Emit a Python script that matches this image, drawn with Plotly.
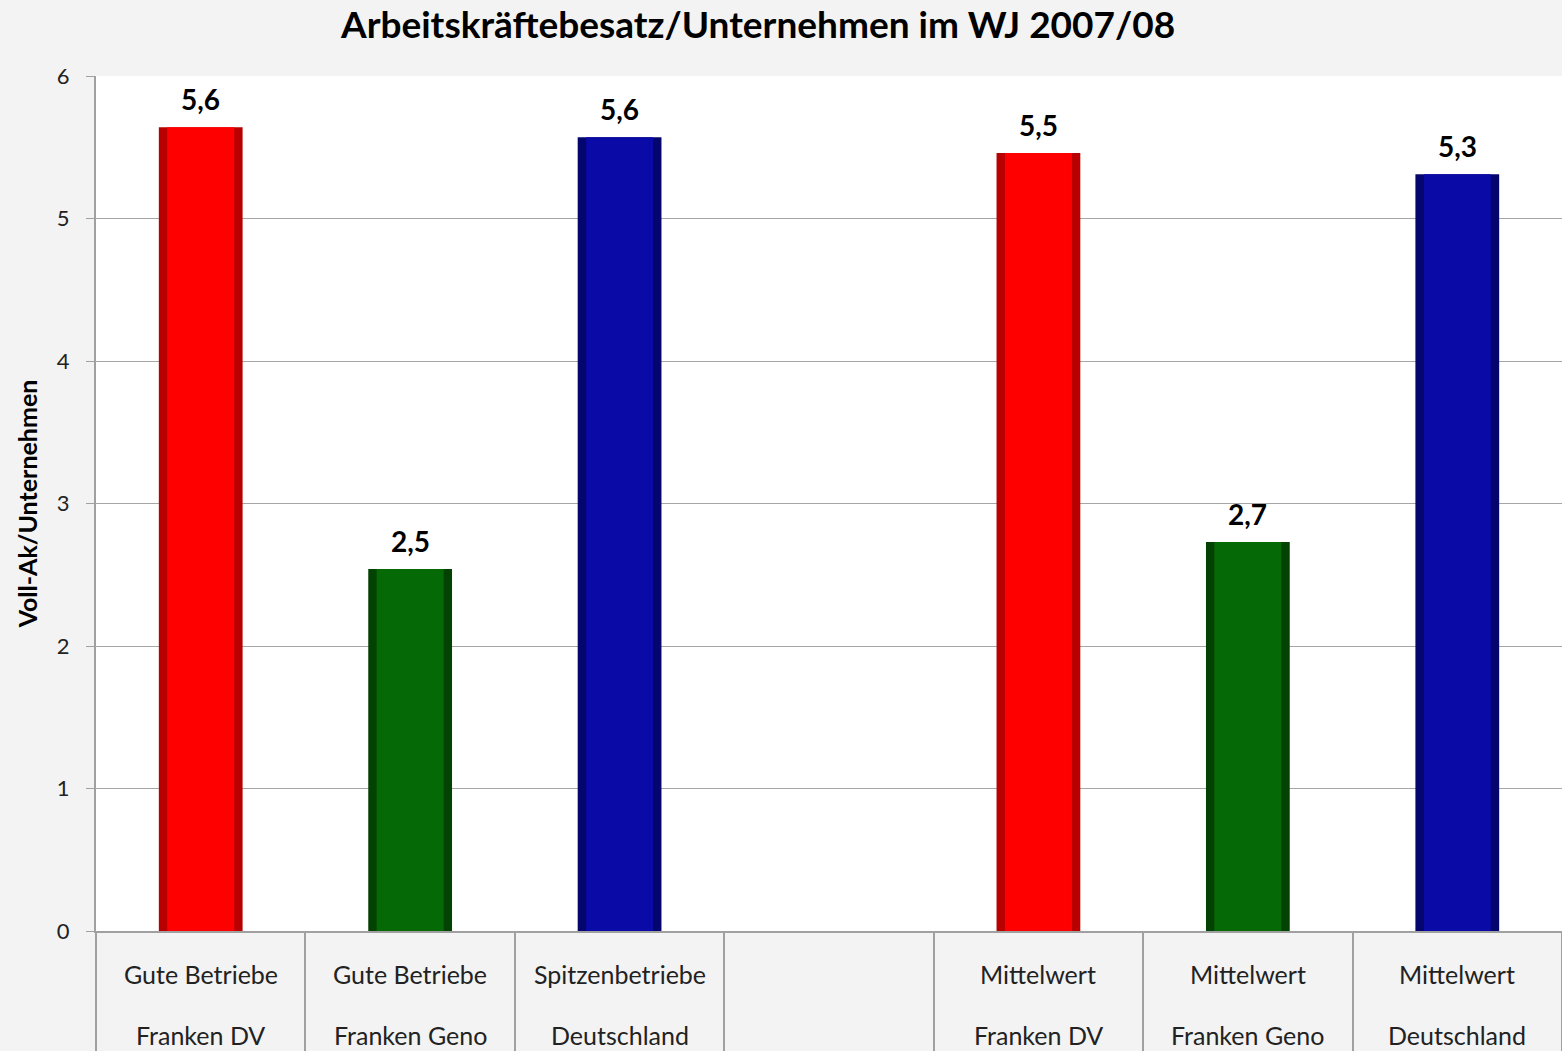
import plotly.graph_objects as go

categories = ["c0", "c1", "c2", "c3", "c4", "c5", "c6"]
label_line1 = ["Gute Betriebe", "Gute Betriebe", "Spitzenbetriebe", "", "Mittelwert", "Mittelwert", "Mittelwert"]
label_line2 = ["Franken DV", "Franken Geno", "Deutschland", "", "Franken DV", "Franken Geno", "Deutschland"]
values = [5.64, 2.54, 5.57, None, 5.46, 2.73, 5.31]
value_labels = ["5,6", "2,5", "5,6", "", "5,5", "2,7", "5,3"]
main_colors = ["#ff0000", "#056a05", "#0a0aa6", "#ffffff", "#ff0000", "#056a05", "#0a0aa6"]
edge_colors = ["#b80000", "#034203", "#05056e", "#ffffff", "#b80000", "#034203", "#05056e"]

FONT = "Lato"

fig = go.Figure()
# darker outer bar (bevel edges)
fig.add_trace(go.Bar(
    x=categories, y=values, width=0.40,
    marker=dict(color=edge_colors, line=dict(width=0)),
    hoverinfo="skip", showlegend=False,
))
# main face
fig.add_trace(go.Bar(
    x=categories, y=values, width=0.32,
    marker=dict(color=main_colors, line=dict(width=0)),
    showlegend=False,
))

fig.update_layout(
    width=1562, height=1051,
    barmode="overlay",
    paper_bgcolor="#f3f3f3",
    plot_bgcolor="#ffffff",
    margin=dict(l=96, r=0, t=76, b=120),
    font=dict(family=FONT, color="#222222"),
    xaxis=dict(
        categoryorder="array", categoryarray=categories,
        range=[-0.5, 6.5],
        showticklabels=False,
        ticks="outside", tickson="boundaries", ticklen=120, tickcolor="#a0a0a0", tickwidth=1.5,
        showline=True, linecolor="#a0a0a0", linewidth=2,
        showgrid=False, zeroline=False, fixedrange=True,
    ),
    yaxis=dict(
        range=[0, 6], dtick=1,
        showgrid=True, gridcolor="#a6a6a6", gridwidth=1.2,
        ticks="outside", ticklen=8, tickcolor="#a0a0a0",
        showline=True, linecolor="#a0a0a0", linewidth=2,
        zeroline=False,
        ticklabelstandoff=12,
        tickfont=dict(family=FONT, size=22, color="#222222"),
        title=dict(text="<b>Voll-Ak/Unternehmen</b>", font=dict(family=FONT, size=25, color="#000000"), standoff=12),
    ),
)

fig.add_annotation(
    text="<b>Arbeitskräftebesatz/Unternehmen im WJ 2007/08</b>",
    xref="paper", yref="paper", x=(757 - 96) / 1466, y=1, xanchor="center", yanchor="middle",
    yshift=53, showarrow=False, font=dict(family=FONT, size=37, color="#000000"),
)

for c, v, t in zip(categories, values, value_labels):
    if v is not None:
        fig.add_annotation(text=f"<b>{t}</b>", x=c, y=v, xref="x", yref="y", yanchor="bottom",
                           yshift=9, showarrow=False, font=dict(family=FONT, size=28, color="#000000"))

for c, l1, l2 in zip(categories, label_line1, label_line2):
    if l1:
        fig.add_annotation(text=l1, x=c, xref="x", yref="paper", y=0, yshift=-60,
                           showarrow=False, font=dict(family=FONT, size=25, color="#222222"))
    if l2:
        fig.add_annotation(text=l2, x=c, xref="x", yref="paper", y=0, yshift=-121,
                           showarrow=False, font=dict(family=FONT, size=25, color="#222222"))

fig.write_html("out.html", config={"displayModeBar": False},
               post_script="document.body.style.margin='0';document.body.style.overflow='hidden';")
